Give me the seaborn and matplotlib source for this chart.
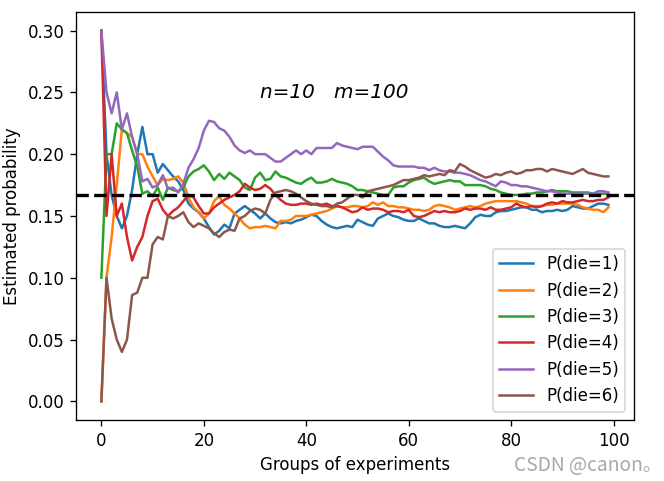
import numpy as np
import pandas as pd
import matplotlib
matplotlib.use("Agg")
import matplotlib.pyplot as plt
import seaborn as sns

# estimated probability after each group of experiments
groups = list(range(100))

p_die1 = [.300, .200, .167, .150, .140, .150, .171, .200, .222, .200,
          .200, .185, .192, .187, .182, .178, .171, .160, .156, .153,
          .148, .141, .135, .138, .143, .140, .152, .155, .158, .155,
          .152, .148, .152, .148, .145, .144, .145, .144, .146, .147,
          .149, .151, .150, .146, .143, .141, .140, .141, .142, .141,
          .147, .145, .143, .142, .148, .150, .152, .150, .149, .147,
          .146, .146, .148, .146, .144, .144, .142, .141, .141, .142,
          .141, .140, .144, .149, .151, .150, .150, .153, .154, .154,
          .155, .156, .157, .157, .155, .155, .153, .154, .154, .155,
          .154, .155, .158, .157, .156, .156, .158, .160, .160, .159]

p_die2 = [.000, .100, .133, .175, .220, .217, .214, .200, .200, .190,
          .182, .175, .180, .179, .180, .182, .177, .165, .157, .153,
          .148, .152, .162, .166, .159, .156, .152, .148, .143, .140,
          .141, .141, .142, .141, .140, .146, .146, .147, .150, .150,
          .150, .151, .152, .153, .154, .156, .158, .157, .157, .158,
          .158, .157, .158, .161, .159, .161, .158, .158, .157, .157,
          .156, .155, .155, .154, .155, .158, .159, .158, .157, .155,
          .156, .157, .158, .157, .158, .160, .161, .162, .162, .162,
          .162, .162, .161, .160, .158, .158, .158, .159, .159, .160,
          .160, .160, .160, .159, .157, .156, .155, .155, .153, .157]

p_die3 = [.100, .200, .200, .225, .220, .217, .203, .190, .168, .170,
          .166, .173, .163, .173, .171, .170, .173, .182, .186, .188,
          .191, .186, .179, .184, .180, .185, .182, .179, .173, .171,
          .181, .185, .179, .180, .186, .182, .181, .179, .177, .176,
          .179, .181, .177, .177, .178, .180, .178, .177, .176, .174,
          .171, .171, .170, .169, .168, .167, .167, .173, .174, .174,
          .177, .179, .180, .181, .178, .176, .177, .178, .179, .178,
          .178, .175, .175, .175, .175, .174, .172, .171, .169, .168,
          .167, .167, .167, .168, .168, .169, .169, .170, .171, .170,
          .170, .170, .169, .169, .169, .169, .168, .168, .168, .168]

p_die4 = [.300, .150, .200, .150, .160, .133, .114, .125, .133, .150,
          .162, .164, .155, .150, .154, .157, .162, .167, .165, .158,
          .152, .152, .157, .160, .163, .165, .167, .170, .176, .173,
          .171, .172, .175, .172, .167, .163, .160, .159, .159, .160,
          .160, .159, .160, .159, .160, .158, .158, .157, .155, .153,
          .154, .157, .155, .156, .156, .155, .153, .154, .154, .153,
          .155, .150, .149, .150, .152, .154, .153, .154, .153, .153,
          .154, .156, .155, .156, .156, .155, .157, .155, .155, .156,
          .157, .160, .158, .157, .158, .157, .158, .160, .161, .160,
          .162, .161, .161, .162, .163, .162, .162, .163, .163, .165]

p_die5 = [.300, .250, .233, .250, .220, .233, .214, .200, .178, .180,
          .173, .175, .183, .172, .173, .169, .176, .189, .196, .205,
          .219, .227, .226, .221, .219, .214, .207, .203, .201, .203,
          .200, .200, .200, .197, .194, .194, .197, .200, .203, .200,
          .203, .200, .205, .205, .205, .205, .209, .207, .206, .205,
          .204, .206, .206, .206, .202, .198, .195, .191, .190, .190,
          .190, .190, .189, .189, .187, .189, .187, .186, .186, .185,
          .185, .184, .183, .181, .179, .178, .176, .174, .178, .177,
          .175, .175, .174, .174, .173, .172, .171, .170, .170, .169,
          .168, .168, .168, .168, .168, .168, .168, .170, .170, .169]

p_die6 = [.000, .100, .067, .050, .040, .050, .086, .088, .100, .100,
          .127, .133, .131, .150, .148, .150, .153, .145, .141, .144,
          .142, .140, .136, .133, .137, .139, .138, .148, .150, .154,
          .156, .155, .152, .163, .169, .170, .171, .170, .168, .165,
          .162, .160, .159, .158, .158, .157, .160, .161, .164, .167,
          .167, .165, .170, .171, .172, .173, .174, .175, .177, .179,
          .179, .180, .181, .183, .182, .183, .184, .183, .187, .186,
          .192, .190, .187, .185, .183, .181, .182, .184, .183, .185,
          .186, .184, .185, .187, .187, .188, .188, .186, .188, .187,
          .186, .185, .184, .186, .188, .185, .184, .183, .182, .182]

labels = [f"P(die={i})" for i in range(1, 7)]
series = [p_die1, p_die2, p_die3, p_die4, p_die5, p_die6]

df = pd.DataFrame({
    "group": np.tile(groups, 6),
    "prob": np.concatenate(series),
    "label": np.repeat(labels, len(groups)),
})

fig = plt.figure(figsize=(664 / 120, 481 / 120), dpi=120)
ax = fig.add_axes([0.1145, 0.127, 0.840, 0.848])

sns.lineplot(data=df, x="group", y="prob", hue="label", palette="tab10",
             linewidth=1.5, ax=ax)
ax.axhline(y=1 / 6, color="black", linestyle="dashed", linewidth=2)

ax.text(31, 0.25, "n=10   m=100", fontsize=12, style="italic", va="center")

ax.set_xlabel("Groups of experiments")
ax.set_ylabel("Estimated probability")
ax.set_xlim(-4.95, 103.95)
ax.set_ylim(-0.015, 0.315)
ax.legend(loc="lower right", title=None)

fig.text(0.997, 0.01, "CSDN @canon。", ha="right", va="bottom", color="#a8a8a8",
         fontsize=11.5, family=["Noto Sans CJK SC", "DejaVu Sans"])

fig.savefig("out.png", dpi=120)
